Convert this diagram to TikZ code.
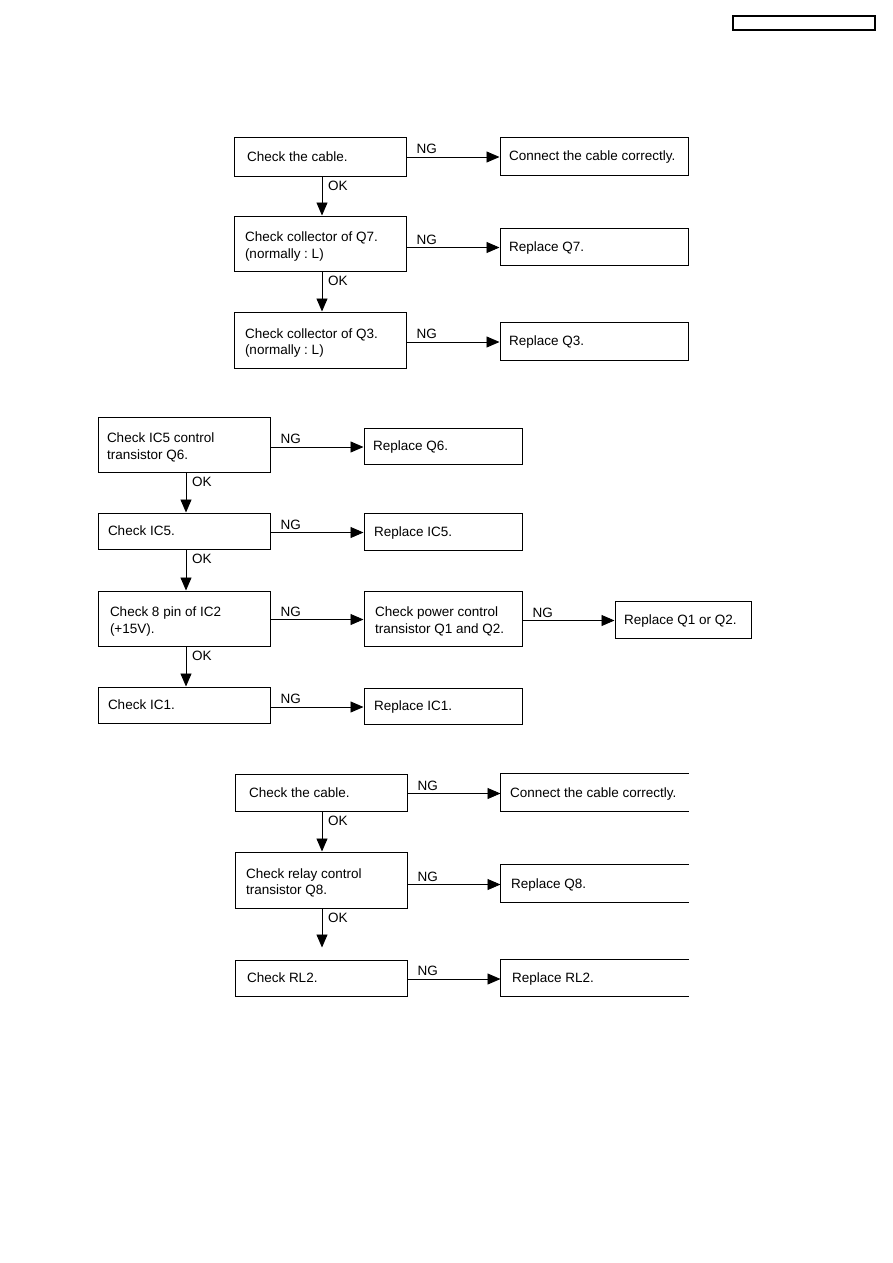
\documentclass[tikz,border=0pt]{standalone}
\usepackage{fontspec}
\setmainfont{Liberation Sans}
\usetikzlibrary{arrows.meta}
\frenchspacing
\newcommand\bxcore[8]{% style, indent, name, x1,y1,x2,y2, text
  \pgfmathsetmacro\bxw{#6-#4-2*#2}\pgfmathsetmacro\bxh{#7-#5}%
  \node[box,#1,inner xsep=#2pt,text width=\bxw pt,minimum height=\bxh pt] (#3) at ({(#4+#6)/2},{(#5+#7)/2}) {#8};}
\newcommand\bx[7][9]{\bxcore{}{#1}{#2}{#3}{#4}{#5}{#6}{#7}}
\newcommand\bxx[7][9]{\bxcore{twoline}{#1}{#2}{#3}{#4}{#5}{#6}{#7}}
\newcommand\obx[7][9]{\bxcore{draw=none}{#1}{#2}{#3}{#4}{#5}{#6}{#7}%
  \draw[line width=1pt] (#2.north east) -- (#2.north west) -- (#2.south west) -- (#2.south east);}
\newcommand\obxx[7][9]{\bxcore{draw=none,twoline}{#1}{#2}{#3}{#4}{#5}{#6}{#7}%
  \draw[line width=1pt] (#2.north east) -- (#2.north west) -- (#2.south west) -- (#2.south east);}
\tikzset{
  box/.style={draw,line width=1pt,inner ysep=0pt,align=flush left,
    font=\fontsize{13.5}{16.5}\selectfont,anchor=center,text depth=-2pt},
  twoline/.style={text depth=13pt},
  arr/.style={line width=0.9pt,-{Triangle[length=13pt,width=11pt]}},
  lbl/.style={inner sep=0pt,font=\fontsize{13.5}{16}\selectfont}
}
\begin{document}
\begin{tikzpicture}[x=1pt,y=-1pt]
\useasboundingbox (0,0) rectangle (893,1263);
\node[draw,line width=1.4pt,minimum width=142pt,minimum height=14pt,inner sep=0pt] (hdr) at (804,23) {};
% ---- section 1
\bx[13]{a1}{234}{137}{406}{176}{Check the cable.}
\bx{b1}{500}{137}{688}{175}{Connect the cable correctly.}
\bxx[11]{a2}{234}{216}{406}{271}{Check collector of Q7.\\(normally : L)}
\bx{b2}{500}{228}{688}{265}{Replace Q7.}
\bxx[11]{a3}{234}{312}{406}{368}{Check collector of Q3.\\(normally : L)}
\bx{b3}{500}{322}{688}{360}{Replace Q3.}
\foreach \s/\t in {a1/b1,a2/b2,a3/b3}{
  \draw[arr] ([yshift=-1pt]\s.east |- \t.west) -- ([yshift=-1pt]\t.west);
  \node[lbl,anchor=south west] at ([xshift=10pt,yshift=2pt]\s.east |- \t.west) {NG};
}
\foreach \s/\t in {a1/a2,a2/a3}{
  \draw[arr] (322,0 |- \s.south) -- (322,0 |- \t.north);
  \node[lbl,anchor=north west] at ([yshift=-4pt]328,0 |- \s.south) {OK};
}
% ---- section 2
\bxx{c1}{98}{417}{270}{472}{Check IC5 control\\transistor Q6.}
\bx{d1}{364}{428}{522}{464}{Replace Q6.}
\bx[10]{c2}{98}{513}{270}{549}{Check IC5.}
\bx[10]{d2}{364}{513}{522}{550}{Replace IC5.}
\bxx[12]{c3}{98}{591}{270}{646}{Check 8 pin of IC2\\(+15V).}
\bxx[11]{d3}{364}{591}{522}{646}{Check power control\\transistor Q1 and Q2.}
\bx{e3}{615}{601}{751}{638}{Replace Q1 or Q2.}
\bx[10]{c4}{98}{687}{270}{723}{Check IC1.}
\bx[10]{d4}{364}{688}{522}{724}{Replace IC1.}
\foreach \s/\t in {c1/d1,c2/d2,c3/d3,d3/e3,c4/d4}{
  \draw[arr] ([yshift=-1pt]\s.east |- \t.west) -- ([yshift=-1pt]\t.west);
  \node[lbl,anchor=south west] at ([xshift=10pt,yshift=2pt]\s.east |- \t.west) {NG};
}
\foreach \s/\t in {c1/c2,c2/c3,c3/c4}{
  \draw[arr] (186,0 |- \s.south) -- (186,0 |- \t.north);
  \node[lbl,anchor=north west] at ([yshift=-4pt]192,0 |- \s.south) {OK};
}
% ---- section 3
\bx[14]{f1}{235}{774}{407}{811}{Check the cable.}
\obx{g1}{501}{774}{688}{811}{Connect the cable correctly.}
\bxx[11]{f2}{235}{852}{407}{908}{Check relay control\\transistor Q8.}
\obx[10]{g2}{501}{865}{688}{902}{Replace Q8.}
\bx[12]{f3}{235}{960}{407}{996}{Check RL2.}
\obx[11]{g3}{501}{960}{688}{996}{Replace RL2.}
\foreach \s/\t in {f1/g1,f2/g2,f3/g3}{
  \draw[arr] ([yshift=-1pt]\s.east |- \t.west) -- ([yshift=-1pt]\t.west);
  \node[lbl,anchor=south west] at ([xshift=10pt,yshift=2pt]\s.east |- \t.west) {NG};
}
\draw[arr] (322,0 |- f1.south) -- (322,0 |- f2.north);
\node[lbl,anchor=north west] at ([yshift=-4pt]328,0 |- f1.south) {OK};
\draw[arr,shorten >=12pt] (322,0 |- f2.south) -- (322,0 |- f3.north);
\node[lbl,anchor=north west] at ([yshift=-4pt]328,0 |- f2.south) {OK};
\end{tikzpicture}
\end{document}
